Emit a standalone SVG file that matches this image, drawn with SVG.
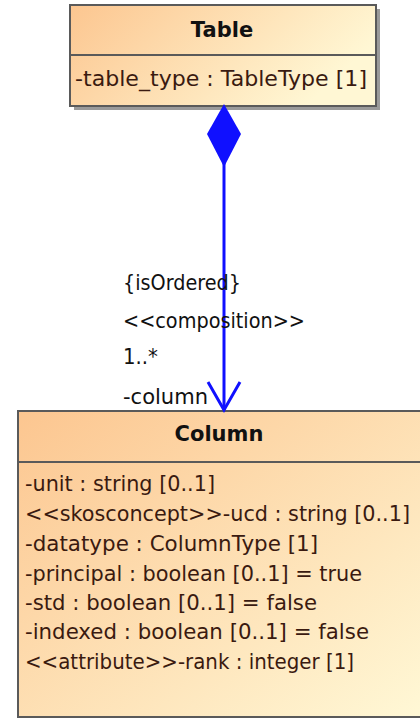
<svg xmlns="http://www.w3.org/2000/svg" width="420" height="719" viewBox="0 0 420 719">
<defs>
<linearGradient id="g1" x1="0" y1="0" x2="1" y2="0.35">
<stop offset="0" stop-color="#FCC690"/>
<stop offset="1" stop-color="#FFF7D4"/>
</linearGradient>
<linearGradient id="g2" x1="0" y1="0" x2="1" y2="1">
<stop offset="0" stop-color="#FCC690"/>
<stop offset="1" stop-color="#FFF8D6"/>
</linearGradient>
<style>
.box{stroke:#5a5a5a;stroke-width:2}
.sh{fill:#9a9a9a}
.sep{stroke:#5a5a5a;stroke-width:2}
.t{font-family:"DejaVu Sans",Verdana,sans-serif;font-size:21.5px;fill:#3a1a10}
.h{font-family:"DejaVu Sans",Verdana,sans-serif;font-size:21px;font-weight:bold;fill:#111;text-anchor:middle}
.l{font-family:"DejaVu Sans",Verdana,sans-serif;font-size:21.5px;fill:#111}
.c{stroke:#1010ff;stroke-width:3;fill:none}
</style>
</defs>
<g id="Table">
<rect class="sh" x="74" y="9" width="306" height="101"/>
<rect class="box" x="70" y="5" width="306" height="101" fill="url(#g1)"/>
<line class="sep" x1="70" y1="55" x2="376" y2="55"/>
<text class="h" x="222" y="37">Table</text>
<text class="t" x="75" y="86" textLength="292" lengthAdjust="spacingAndGlyphs">-table_type : TableType [1]</text>
</g>
<g id="Column">
<rect class="box" x="18" y="411" width="406" height="306" fill="url(#g2)"/>
<line class="sep" x1="18" y1="462" x2="424" y2="462"/>
<text class="h" x="219" y="441">Column</text>
<text class="t" x="25" y="491" textLength="190" lengthAdjust="spacingAndGlyphs">-unit : string [0..1]</text>
<text class="t" x="25" y="521" textLength="385" lengthAdjust="spacingAndGlyphs">&lt;&lt;skosconcept&gt;&gt;-ucd : string [0..1]</text>
<text class="t" x="25" y="551" textLength="293" lengthAdjust="spacingAndGlyphs">-datatype : ColumnType [1]</text>
<text class="t" x="25" y="581" textLength="337" lengthAdjust="spacingAndGlyphs">-principal : boolean [0..1] = true</text>
<text class="t" x="25" y="610" textLength="292" lengthAdjust="spacingAndGlyphs">-std : boolean [0..1] = false</text>
<text class="t" x="25" y="639" textLength="344" lengthAdjust="spacingAndGlyphs">-indexed : boolean [0..1] = false</text>
<text class="t" x="25" y="669" textLength="329" lengthAdjust="spacingAndGlyphs">&lt;&lt;attribute&gt;&gt;-rank : integer [1]</text>
</g>
<g id="connectors">
<line class="c" x1="224" y1="160" x2="224" y2="410"/>
<polygon points="224,104 241,134 224,167 207,134" fill="#1010ff"/>
<polyline class="c" points="208,382 224,410 240,382"/>
<text class="l" x="123" y="290" textLength="118" lengthAdjust="spacingAndGlyphs">{isOrdered}</text>
<text class="l" x="123" y="328" textLength="182" lengthAdjust="spacingAndGlyphs">&lt;&lt;composition&gt;&gt;</text>
<text class="l" x="123" y="364" textLength="35" lengthAdjust="spacingAndGlyphs">1..*</text>
<text class="l" x="123" y="404" textLength="85" lengthAdjust="spacingAndGlyphs">-column</text>
</g>
</svg>
